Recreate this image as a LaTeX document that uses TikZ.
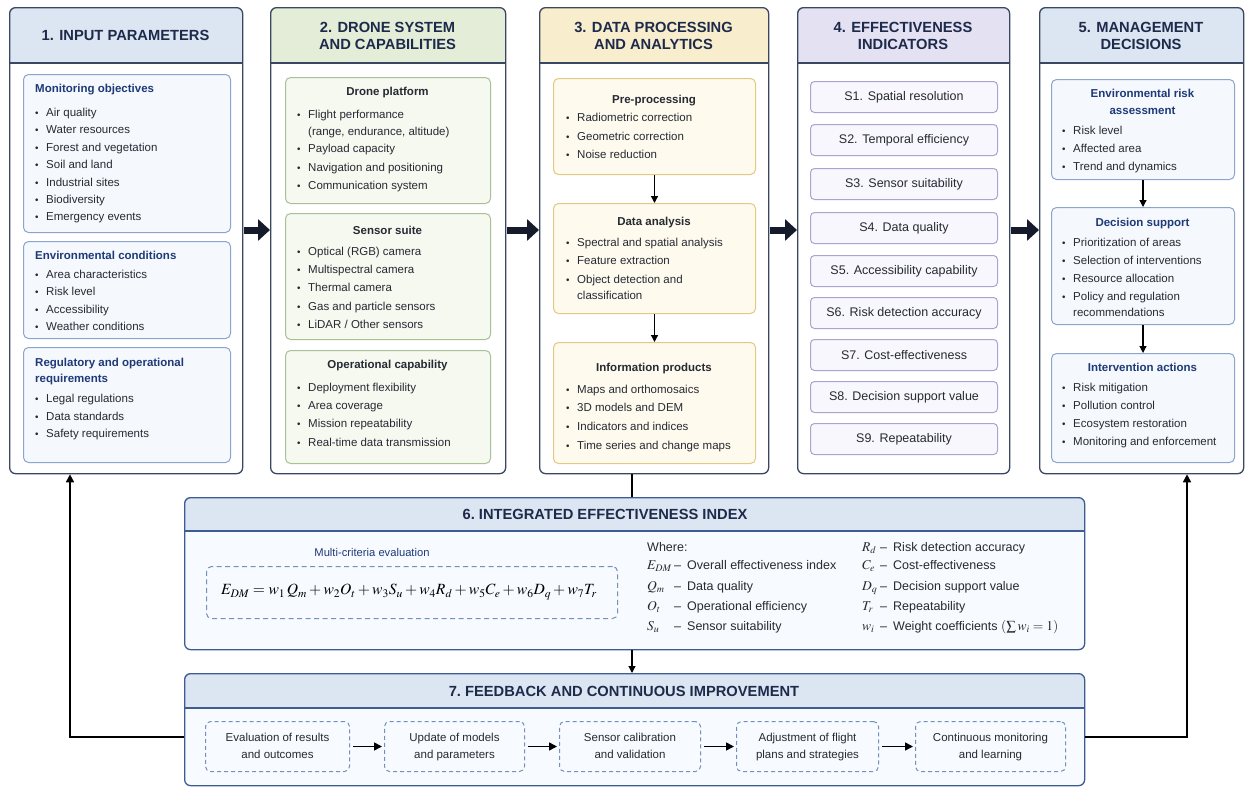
\documentclass[tikz,border=0pt]{standalone}
\usepackage{mathptmx}
\usepackage{fontspec}
\setmainfont{Liberation Sans}
\usetikzlibrary{arrows.meta}
\definecolor{frame}{HTML}{3A4760}
\definecolor{navy}{HTML}{1E2A4A}
\definecolor{txt}{HTML}{262A33}
\definecolor{hdrA}{HTML}{DCE6F3}
\definecolor{subAline}{HTML}{8CA5CE}
\definecolor{subAfill}{HTML}{F5F8FD}
\definecolor{subAtit}{HTML}{1F3A78}
\definecolor{hdrB}{HTML}{E3EDD7}
\definecolor{subBline}{HTML}{A9C197}
\definecolor{subBfill}{HTML}{F5F9F0}
\definecolor{hdrC}{HTML}{F8EECD}
\definecolor{subCline}{HTML}{E2C982}
\definecolor{subCfill}{HTML}{FEFAEE}
\definecolor{hdrD}{HTML}{E4E1F3}
\definecolor{subDline}{HTML}{ACA4D0}
\definecolor{subDfill}{HTML}{F8F7FD}
\definecolor{bframe}{HTML}{3E5C92}
\definecolor{bhdr}{HTML}{DCE6F3}
\definecolor{bfill}{HTML}{F7FAFE}
\definecolor{dashc}{HTML}{7590BC}
\definecolor{arrowc}{HTML}{151B2A}
\tikzset{
  colframe/.style={draw=frame, line width=1.3pt, rounded corners=6pt, inner sep=0pt},
  subA/.style={draw=subAline, fill=subAfill, line width=1pt, rounded corners=5pt, inner sep=0pt},
  subB/.style={draw=subBline, fill=subBfill, line width=1pt, rounded corners=5pt, inner sep=0pt},
  subC/.style={draw=subCline, fill=subCfill, line width=1pt, rounded corners=5pt, inner sep=0pt},
  subD/.style={draw=subDline, fill=subDfill, line width=1pt, rounded corners=4pt, inner sep=0pt,
    font=\fontsize{12.5}{15}\selectfont, text=txt},
  ttl/.style={font=\fontsize{14.7}{17.5}\selectfont\bfseries, text=navy, align=center, inner sep=0pt},
  stA/.style={font=\fontsize{11.5}{14}\selectfont\bfseries, text=subAtit, inner sep=0pt},
  stB/.style={font=\fontsize{11.5}{14}\selectfont\bfseries, text=txt, inner sep=0pt},
  itxt/.style={font=\fontsize{11.5}{14}\selectfont, text=txt, inner sep=0pt},
  lg/.style={font=\fontsize{12.5}{15}\selectfont, text=txt, inner sep=0pt},
  lgm/.style={font=\fontsize{13.5}{15}\selectfont, text=txt, inner sep=0pt},
  bigarr/.style={draw=arrowc, line width=7pt, -{Triangle[length=12pt,width=21pt]}, shorten <=1pt, shorten >=0pt},
  smarr/.style={draw=black, line width=1.2pt, -{Triangle[length=7pt,width=7pt]}},
  plainline/.style={draw=black, line width=1.3pt},
  fbl/.style={draw=black, line width=1.5pt, -{Triangle[length=8pt,width=8pt]}},
  fba/.style={draw=black, line width=1.6pt, -{Triangle[length=8pt,width=8pt]}, shorten <=3pt, shorten >=2pt},
  fbbox/.style={draw=dashc, line width=1pt, dash pattern=on 4pt off 3pt, rounded corners=5pt,
    inner sep=0pt, align=center, font=\fontsize{11.5}{17}\selectfont, text=txt},
}
\newcount\itemno
\newcommand\li[3]{\global\advance\itemno by 1\relax
  \node[itxt,anchor=base west] (bu\the\itemno) at (#1,#2) {\scalebox{0.85}{\textbullet}};
  \node[itxt,anchor=base west] (it\the\itemno) at (#1+11,#2) {#3};}
\newcommand\lc[3]{\global\advance\itemno by 1\relax
  \node[itxt,anchor=base west] (it\the\itemno) at (#1+11,#2) {#3};}
% #1 name #2 x1 #3 x2 #4 y1 #5 y2 #6 header fill #7 header bottom #8 frame colour #9 body fill
\newcommand\mkcolumn[9]{%
  \begin{scope}
    \clip[rounded corners=6pt] (#2,#4) rectangle (#3,#5);
    \fill[#9] (#2,#4) rectangle (#3,#5);
    \fill[#6] (#2,#4) rectangle (#3,#7);
  \end{scope}
  \draw[#8, line width=1.1pt] (#2,#7) -- (#3,#7);
  \node[colframe, draw=#8, minimum width=#3-#2, minimum height=#5-#4, anchor=north west] (#1) at (#2,#4) {};
}
\begin{document}
\begin{tikzpicture}[x=1pt,y=-1pt]
\useasboundingbox (0,0) rectangle (1247,787);
\fill[white] (0,0) rectangle (1247,787);

% ---------- Column 1
\mkcolumn{c1}{9}{242}{7}{473}{hdrA}{63}{frame}{white}
\node[ttl] (c1t) at (125.5,35) {1. INPUT PARAMETERS};
\node[subA, minimum width=207, minimum height=158, anchor=north west] (m1) at (23,74) {};
\node[stA, anchor=base west] (m1h) at (35,92) {Monitoring objectives};
\li{35}{116}{Air quality}
\li{35}{133.5}{Water resources}
\li{35}{151}{Forest and vegetation}
\li{35}{168.5}{Soil and land}
\li{35}{186}{Industrial sites}
\li{35}{203}{Biodiversity}
\li{35}{220}{Emergency events}
\node[subA, minimum width=207, minimum height=97, anchor=north west] (m2) at (23,241) {};
\node[stA, anchor=base west] (m2h) at (35,259) {Environmental conditions};
\li{35}{278}{Area characteristics}
\li{35}{295}{Risk level}
\li{35}{313}{Accessibility}
\li{35}{330}{Weather conditions}
\node[subA, minimum width=207, minimum height=115, anchor=north west] (m3) at (23,347) {};
\node[stA, anchor=base west] (m3h) at (35,366) {Regulatory and operational};
\node[stA, anchor=base west] (m3h2) at (35,382) {requirements};
\li{35}{402}{Legal regulations}
\li{35}{420}{Data standards}
\li{35}{437}{Safety requirements}

% ---------- Column 2
\mkcolumn{c2}{270}{505}{7}{473}{hdrB}{63}{frame}{white}
\node[ttl] (c2t) at (387.5,36) {2. DRONE SYSTEM\\AND CAPABILITIES};
\node[subB, minimum width=205, minimum height=126, anchor=north west] (d1) at (285,77) {};
\node[stB, anchor=base] (d1h) at (387.5,95) {Drone platform};
\li{297}{118}{Flight performance}
\lc{297}{135}{(range, endurance, altitude)}
\li{297}{152}{Payload capacity}
\li{297}{171}{Navigation and positioning}
\li{297}{189}{Communication system}
\node[subB, minimum width=205, minimum height=126, anchor=north west] (d2) at (285,213) {};
\node[stB, anchor=base] (d2h) at (387.5,234) {Sensor suite};
\li{297}{255}{Optical (RGB) camera}
\li{297}{273}{Multispectral camera}
\li{297}{291}{Thermal camera}
\li{297}{310}{Gas and particle sensors}
\li{297}{328}{LiDAR / Other sensors}
\node[subB, minimum width=205, minimum height=113, anchor=north west] (d3) at (285,350) {};
\node[stB, anchor=base] (d3h) at (387.5,368) {Operational capability};
\li{297}{391}{Deployment flexibility}
\li{297}{409}{Area coverage}
\li{297}{427}{Mission repeatability}
\li{297}{446}{Real-time data transmission}

% ---------- Column 3
\mkcolumn{c3}{539}{768}{7}{473}{hdrC}{63}{frame}{white}
\node[ttl] (c3t) at (653.5,36) {3. DATA PROCESSING\\AND ANALYTICS};
\node[subC, minimum width=202, minimum height=96, anchor=north west] (p1) at (553,78) {};
\node[stB, anchor=base] (p1h) at (654,103) {Pre-processing};
\li{566}{121}{Radiometric correction}
\li{566}{140}{Geometric correction}
\li{566}{158}{Noise reduction}
\node[subC, minimum width=202, minimum height=110, anchor=north west] (p2) at (553,203) {};
\node[stB, anchor=base] (p2h) at (654,225) {Data analysis};
\li{566}{246}{Spectral and spatial analysis}
\li{566}{264}{Feature extraction}
\li{566}{283}{Object detection and}
\lc{566}{299}{classification}
\node[subC, minimum width=202, minimum height=121, anchor=north west] (p3) at (553,342) {};
\node[stB, anchor=base] (p3h) at (654,371) {Information products};
\li{566}{393}{Maps and orthomosaics}
\li{566}{411}{3D models and DEM}
\li{566}{430}{Indicators and indices}
\li{566}{449}{Time series and change maps}
\draw[smarr] (p1) -- (p2);
\draw[smarr] (p2) -- (p3);

% ---------- Column 4
\mkcolumn{c4}{797}{1009}{7}{473}{hdrD}{63}{frame}{white}
\node[ttl] (c4t) at (903,36) {4. EFFECTIVENESS\\INDICATORS};
\node[subD, minimum width=187, minimum height=31, anchor=north west] (s1) at (810,81) {S1. Spatial resolution};
\node[subD, minimum width=187, minimum height=31, anchor=north west] (s2) at (810,124) {S2. Temporal efficiency};
\node[subD, minimum width=187, minimum height=31, anchor=north west] (s3) at (810,168) {S3. Sensor suitability};
\node[subD, minimum width=187, minimum height=31, anchor=north west] (s4) at (810,212) {S4. Data quality};
\node[subD, minimum width=187, minimum height=31, anchor=north west] (s5) at (810,255) {S5. Accessibility capability};
\node[subD, minimum width=187, minimum height=31, anchor=north west] (s6) at (810,297) {S6. Risk detection accuracy};
\node[subD, minimum width=187, minimum height=31, anchor=north west] (s7) at (810,339) {S7. Cost-effectiveness};
\node[subD, minimum width=187, minimum height=31, anchor=north west] (s8) at (810,381) {S8. Decision support value};
\node[subD, minimum width=187, minimum height=31, anchor=north west] (s9) at (810,423) {S9. Repeatability};

% ---------- Column 5
\mkcolumn{c5}{1039}{1243}{7}{473}{hdrA}{63}{frame}{white}
\node[ttl] (c5t) at (1141,36) {5. MANAGEMENT\\DECISIONS};
\node[subA, minimum width=183, minimum height=100, anchor=north west] (e1) at (1051,79) {};
\node[stA, anchor=base] (e1h) at (1142.5,97) {Environmental risk};
\node[stA, anchor=base] (e1h2) at (1142.5,114) {assessment};
\li{1062}{134}{Risk level}
\li{1062}{152}{Affected area}
\li{1062}{170}{Trend and dynamics}
\node[subA, minimum width=183, minimum height=117, anchor=north west] (e2) at (1051,207) {};
\node[stA, anchor=base] (e2h) at (1142.5,226) {Decision support};
\li{1062}{246}{Prioritization of areas}
\li{1062}{264}{Selection of interventions}
\li{1062}{282}{Resource allocation}
\li{1062}{300}{Policy and regulation}
\lc{1062}{316}{recommendations}
\node[subA, minimum width=183, minimum height=109, anchor=north west] (e3) at (1051,353) {};
\node[stA, anchor=base] (e3h) at (1142.5,371) {Intervention actions};
\li{1062}{391}{Risk mitigation}
\li{1062}{409}{Pollution control}
\li{1062}{427}{Ecosystem restoration}
\li{1062}{445}{Monitoring and enforcement}
\draw[smarr] (e1) -- (e2);
\draw[smarr] (e2) -- (e3);

% ---------- big arrows between columns
\coordinate (ay) at (0,230);
\draw[bigarr] (c1.east |- ay) -- (c2.west |- ay);
\draw[bigarr] (c2.east |- ay) -- (c3.west |- ay);
\draw[bigarr] (c3.east |- ay) -- (c4.west |- ay);
\draw[bigarr] (c4.east |- ay) -- (c5.west |- ay);

% ---------- Box 6
\mkcolumn{b6}{184}{1084}{497}{649}{bhdr}{531}{bframe}{bfill}
\node[ttl] (b6t) at (605,514) {6.\ INTEGRATED EFFECTIVENESS INDEX};
\node[font=\fontsize{11.2}{13}\selectfont, text=subAtit, inner sep=0pt] (mce) at (372,552) {Multi-criteria evaluation};
\node[draw=dashc, line width=1pt, dash pattern=on 5pt off 3.5pt, rounded corners=5pt, minimum width=411, minimum height=52, anchor=north west, inner sep=0pt] (eqb) at (206,566) {};
\node[font=\fontsize{15.6}{18}\selectfont, inner sep=0pt] (eqn) at (409,592) {$E_{DM} = w_1\, Q_m + w_2 O_t + w_3 S_u + w_4 R_d + w_5 C_e + w_6 D_q + w_7 T_r$};
\node[lg, anchor=base west] (wh) at (647,551) {Where:};
\node[lgm, anchor=base west] (l1s) at (647,569) {$E_{DM}$};
\node[lg, anchor=base west] (l1d) at (674,569) {--};
\node[lg, anchor=base west] (l1t) at (687,569) {Overall effectiveness index};
\node[lgm, anchor=base west] (l2s) at (647,590) {$Q_m$};
\node[lg, anchor=base west] (l2d) at (674,590) {--};
\node[lg, anchor=base west] (l2t) at (687,590) {Data quality};
\node[lgm, anchor=base west] (l3s) at (647,610) {$O_t$};
\node[lg, anchor=base west] (l3d) at (674,610) {--};
\node[lg, anchor=base west] (l3t) at (687,610) {Operational efficiency};
\node[lgm, anchor=base west] (l4s) at (647,630) {$S_u$};
\node[lg, anchor=base west] (l4d) at (674,630) {--};
\node[lg, anchor=base west] (l4t) at (687,630) {Sensor suitability};
\node[lgm, anchor=base west] (r1s) at (862,551) {$R_d$};
\node[lg, anchor=base west] (r1d) at (880,551) {--};
\node[lg, anchor=base west] (r1t) at (893,551) {Risk detection accuracy};
\node[lgm, anchor=base west] (r2s) at (862,569) {$C_e$};
\node[lg, anchor=base west] (r2d) at (880,569) {--};
\node[lg, anchor=base west] (r2t) at (893,569) {Cost-effectiveness};
\node[lgm, anchor=base west] (r3s) at (862,590) {$D_q$};
\node[lg, anchor=base west] (r3d) at (880,590) {--};
\node[lg, anchor=base west] (r3t) at (893,590) {Decision support value};
\node[lgm, anchor=base west] (r4s) at (862,610) {$T_r$};
\node[lg, anchor=base west] (r4d) at (880,610) {--};
\node[lg, anchor=base west] (r4t) at (893,610) {Repeatability};
\node[lgm, anchor=base west] (r5s) at (862,630) {$w_i$};
\node[lg, anchor=base west] (r5d) at (880,630) {--};
\node[lg, anchor=base west] (r5t) at (893,630) {Weight coefficients \fontsize{13.5}{15}\selectfont$(\sum w_i = 1)$};

% ---------- Box 7
\mkcolumn{b7}{184}{1084}{673}{785}{bhdr}{708}{bframe}{bfill}
\node[ttl] (b7t) at (624,691) {7.\ FEEDBACK AND CONTINUOUS IMPROVEMENT};
\node[fbbox, minimum width=144, minimum height=50, anchor=north west] (f1) at (205,721) {Evaluation of results\strut\\and outcomes\strut};
\node[fbbox, minimum width=140, minimum height=50, anchor=north west] (f2) at (384,721) {Update of models\strut\\and parameters\strut};
\node[fbbox, minimum width=141, minimum height=50, anchor=north west] (f3) at (559,721) {Sensor calibration\strut\\and validation\strut};
\node[fbbox, minimum width=142, minimum height=50, anchor=north west] (f4) at (736,721) {Adjustment of flight\strut\\plans and strategies\strut};
\node[fbbox, minimum width=150, minimum height=50, anchor=north west] (f5) at (915,721) {Continuous monitoring\strut\\and learning\strut};
\draw[fba] (f1) -- (f2);
\draw[fba] (f2) -- (f3);
\draw[fba] (f3) -- (f4);
\draw[fba] (f4) -- (f5);

% ---------- connectors between blocks
\coordinate (xm) at (632,0);
\draw[plainline] (c3.south -| xm) -- (b6.north -| xm);
\draw[smarr] (b6.south -| xm) -- (b7.north -| xm);
\coordinate (fl) at (70,737);
\coordinate (fr) at (1187,737);
\draw[fbl] (b7.west |- fl) -| (c1.south -| fl);
\draw[fbl] (b7.east |- fr) -| (c5.south -| fr);
\end{tikzpicture}
\end{document}
